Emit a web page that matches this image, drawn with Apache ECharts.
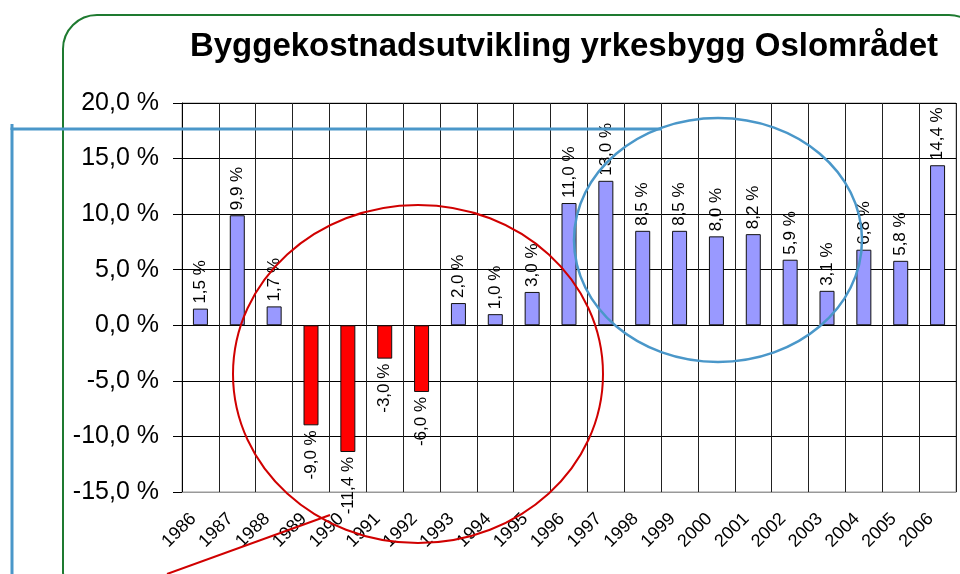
<!DOCTYPE html>
<html>
<head>
<meta charset="utf-8">
<script src="https://cdn.jsdelivr.net/npm/echarts@6/dist/echarts.min.js"></script>
<style>
  html, body { margin: 0; padding: 0; background: #fff; }
  #chart { width: 960px; height: 574px; }
</style>
</head>
<body>
<div id="chart"></div>
<script>
var years = ['1986','1987','1988','1989','1990','1991','1992','1993','1994','1995','1996',
             '1997','1998','1999','2000','2001','2002','2003','2004','2005','2006'];
var growth = [1.5, 9.9, 1.7, -9.0, -11.4, -3.0, -6.0, 2.0, 1.0, 3.0, 11.0,
              13.0, 8.5, 8.5, 8.0, 8.2, 5.9, 3.1, 6.8, 5.8, 14.4];
var yTicks = { min: -15, max: 20, step: 5 };

function pct(v) {
  return v.toFixed(1).replace('.', ',') + ' %';
}

var dom = document.getElementById('chart');
var myChart = echarts.init(dom);

var barData = [];
for (let i = 0; i < growth.length; i++) {
  var neg = growth[i] < 0;
  barData.push({
    value: growth[i],
    itemStyle: { color: neg ? '#FF0000' : '#9999FF' },
    label: {
      position: neg ? 'bottom' : 'top',
      align: neg ? 'right' : 'left'
    }
  });
}

var option = {
  animation: false,
  title: {
    text: 'Byggekostnadsutvikling yrkesbygg Oslområdet',
    left: 559,
    textAlign: 'center',
    top: 25,
    textStyle: { fontFamily: 'Liberation Sans', fontWeight: 'bold', fontSize: 33, color: '#000' }
  },
  grid: { left: 182, right: 4, top: 103, bottom: 82, show: true, borderColor: '#999', borderWidth: 1 },
  xAxis: {
    type: 'category',
    data: years,
    axisLine: { onZero: false, lineStyle: { color: '#999' } },
    axisTick: { show: false },
    splitLine: { show: true, interval: 0, lineStyle: { color: '#222' } },
    axisLabel: {
      interval: 0, rotate: 45, margin: 17, padding: [0, 10, 0, 0],
      fontFamily: 'Liberation Sans', fontSize: 18, color: '#000'
    }
  },
  yAxis: {
    type: 'value',
    min: yTicks.min, max: yTicks.max, interval: yTicks.step,
    axisLine: { show: true, lineStyle: { color: '#000' } },
    axisTick: { show: true, length: 9, lineStyle: { color: '#000' } },
    splitLine: { lineStyle: { color: '#000' } },
    axisLabel: {
      formatter: pct, margin: 23,
      fontFamily: 'Liberation Sans', fontSize: 25, color: '#000'
    }
  },
  series: [{
    type: 'bar',
    data: barData,
    barWidth: 15,
    itemStyle: { borderColor: '#111', borderWidth: 1 },
    label: {
      show: true, rotate: 90, distance: 5, verticalAlign: 'middle',
      fontFamily: 'Liberation Sans', fontSize: 17, color: '#000',
      formatter: function (p) { return pct(p.value); }
    }
  }],
  graphic: [
    { type: 'rect', z: -10, shape: { x: 63, y: 15, width: 920, height: 590, r: 34 },
      style: { fill: 'none', stroke: '#1E7A30', lineWidth: 2 } },
    { type: 'polyline', z: 100, shape: { points: [[12, 574], [12, 129], [662, 129]] },
      style: { fill: 'none', stroke: '#4A97C9', lineWidth: 3 } },
    { type: 'line', z: 100, shape: { x1: 12, y1: 124, x2: 12, y2: 130 },
      style: { stroke: '#4A97C9', lineWidth: 3 } },
    { type: 'ellipse', z: 100, shape: { cx: 718, cy: 240, rx: 144, ry: 122 },
      style: { fill: 'none', stroke: '#4A97C9', lineWidth: 2.5 } },
    { type: 'ellipse', z: 100, shape: { cx: 418, cy: 374, rx: 185, ry: 169 },
      style: { fill: 'none', stroke: '#D00000', lineWidth: 2 } },
    { type: 'line', z: 100, shape: { x1: 167, y1: 574, x2: 330, y2: 515 },
      style: { stroke: '#D00000', lineWidth: 2 } }
  ]
};

myChart.setOption(option, true);
window.onresize = myChart.resize;
</script>
</body>
</html>
